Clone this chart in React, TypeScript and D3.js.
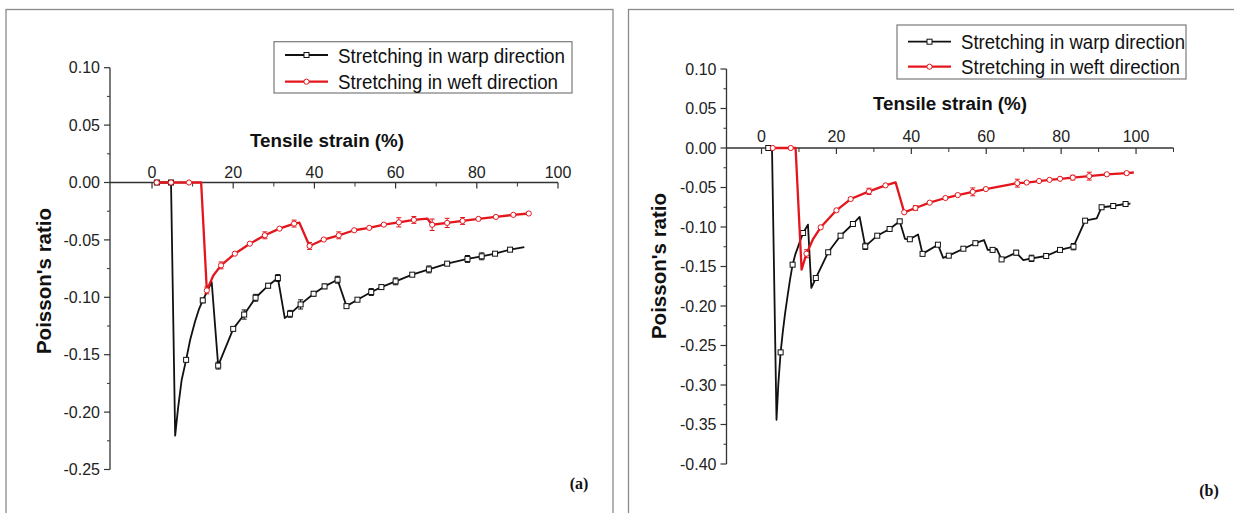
import React from "react";
import * as d3 from "d3";

// [strain %, poisson ratio, error half-length, marker shown (1) or plain vertex (0)]
type Pt = [number, number, number, number];

const warpA: Pt[] = [
  [1.2, 0, 0, 1], [4.68, 0, 0, 1], [5.7, -0.2205, 0, 0], [6.4, -0.197, 0, 0],
  [7.3, -0.172, 0, 0], [8.4, -0.1545, 0, 1], [9.4, -0.137, 0, 0],
  [10.6, -0.121, 0, 0], [11.6, -0.11, 0, 0], [12.5, -0.1027, 0.002, 1],
  [14.7, -0.0867, 0, 0], [16.3, -0.1595, 0.003, 1], [20, -0.1275, 0, 1], [22.7, -0.115, 0.004, 1],
  [25.5, -0.1004, 0.003, 1], [28.6, -0.0899, 0.002, 1], [31, -0.0832, 0.003, 1], [32.7, -0.1181, 0, 0],
  [34, -0.1144, 0.003, 1], [36.6, -0.1062, 0.004, 1], [39.8, -0.0969, 0.002, 1], [42.5, -0.0905, 0.002, 1],
  [45.7, -0.0847, 0.003, 1], [47.9, -0.1077, 0, 1], [50.6, -0.1021, 0, 1], [54, -0.0954, 0.003, 1],
  [56.5, -0.0911, 0.002, 1], [60, -0.0861, 0.003, 1], [64.1, -0.0803, 0, 1], [68.2, -0.0757, 0.003, 1],
  [72.7, -0.0707, 0, 1], [77.7, -0.0666, 0.003, 1], [81.2, -0.0643, 0.003, 1], [84.5, -0.062, 0, 1],
  [88.2, -0.0585, 0, 1], [91.7, -0.0562, 0, 0],
];

const weftA: Pt[] = [
  [1.16, 0, 0, 1], [4.68, 0, 0, 1], [9.1, 0, 0, 1], [12.1, 0, 0, 0],
  [13.5, -0.094, 0.003, 1], [15.1, -0.081, 0, 0], [17, -0.0722, 0.003, 1], [20.4, -0.062, 0, 1], [24.1, -0.0533, 0, 1],
  [27.8, -0.046, 0.003, 1], [31.4, -0.0402, 0, 1], [35, -0.0358, 0.003, 1], [36.3, -0.035, 0, 0],
  [38.8, -0.0553, 0.003, 1], [42.3, -0.0497, 0, 1], [46, -0.046, 0.003, 1], [49.8, -0.0416, 0, 1],
  [53.5, -0.0395, 0, 1], [57.1, -0.0367, 0, 1], [60.8, -0.0347, 0.004, 1], [64.5, -0.0326, 0.003, 1],
  [67.8, -0.0314, 0, 0], [69, -0.0368, 0.005, 1], [72.7, -0.0352, 0.004, 1], [76.5, -0.0335, 0.003, 1],
  [80.4, -0.0317, 0, 1], [84.7, -0.03, 0, 1], [89, -0.0282, 0, 1], [92.8, -0.027, 0, 1],
];

const warpB: Pt[] = [
  [1.8, 0, 0, 1], [2.8, 0, 0, 0], [4.0, -0.344, 0, 0], [4.5, -0.298, 0, 0], [5.1, -0.2587, 0, 1],
  [5.7, -0.232, 0, 0], [6.3, -0.209, 0, 0], [7.0, -0.186, 0, 0], [7.6, -0.167, 0, 0], [8.3, -0.1477, 0, 1],
  [9.0, -0.135, 0, 0], [9.8, -0.1245, 0, 0], [10.5, -0.115, 0, 0], [11.1, -0.1076, 0, 1],
  [12.4, -0.097, 0, 0], [13.3, -0.177, 0, 0], [14.5, -0.1646, 0, 1], [17.8, -0.132, 0, 1],
  [21.1, -0.111, 0, 1], [24.4, -0.0962, 0, 1], [26.2, -0.0873, 0, 0], [27.7, -0.1245, 0.004, 1],
  [30.9, -0.111, 0, 1], [34.2, -0.1025, 0, 1], [36.9, -0.0928, 0, 1], [38.3, -0.115, 0, 0],
  [39.6, -0.1155, 0, 1], [41.8, -0.1095, 0, 0], [43.0, -0.134, 0, 1], [47.1, -0.1224, 0, 1],
  [48.5, -0.139, 0, 0], [50, -0.1363, 0, 1], [53.9, -0.1275, 0, 1], [57.1, -0.1205, 0, 1],
  [59.4, -0.1165, 0, 0], [60.4, -0.129, 0, 0], [61.7, -0.129, 0, 1], [62.8, -0.1278, 0, 0],
  [64.1, -0.141, 0, 1], [68, -0.1325, 0.003, 1], [69.9, -0.1418, 0, 0], [72.1, -0.1397, 0.004, 1],
  [76, -0.1367, 0.003, 1], [79.7, -0.129, 0, 1], [83.3, -0.1249, 0.004, 1], [86.4, -0.092, 0, 1],
  [89.5, -0.089, 0, 0], [90.8, -0.075, 0, 1], [93.9, -0.0734, 0, 1], [97.2, -0.0709, 0.003, 1],
  [98.5, -0.0705, 0, 0],
];

const weftB: Pt[] = [
  [3.0, 0, 0, 1], [7.8, 0, 0, 1], [9.1, 0, 0, 0], [10.7, -0.154, 0, 0],
  [12, -0.1338, 0.005, 1], [13.8, -0.115, 0, 0], [15.8, -0.1004, 0, 1], [20, -0.0789, 0, 1], [23.8, -0.0646, 0, 1],
  [28.7, -0.0549, 0.004, 1], [33.1, -0.0473, 0, 1], [35.8, -0.0435, 0, 0], [38.1, -0.0814, 0, 1],
  [41.1, -0.076, 0.003, 1], [44.9, -0.0692, 0, 1], [49.1, -0.0633, 0, 1], [52.4, -0.0596, 0, 1],
  [56.4, -0.0555, 0.005, 1], [59.9, -0.052, 0, 1], [68.3, -0.0445, 0.005, 1], [70.8, -0.0437, 0, 1],
  [74.1, -0.0418, 0, 1], [76.9, -0.0403, 0, 1], [79.7, -0.039, 0, 1], [83.1, -0.0375, 0.003, 1],
  [87.5, -0.0356, 0.005, 1], [92.2, -0.0333, 0, 1], [97.5, -0.0318, 0.002, 1], [99.4, -0.031, 0, 0],
];

const seriesNames = ["Stretching in warp direction", "Stretching in weft direction"];
const seriesColors = ["#111111", "#e3161d"];
const xTicks = [0, 20, 40, 60, 80, 100];
const xMinorA = [10, 30, 50, 70, 90];
const xMinorB = [10, 30, 50, 70, 90, 110];
const yTicksA = [0.1, 0.05, 0, -0.05, -0.1, -0.15, -0.2, -0.25];
const yTicksB = [0.1, 0.05, 0, -0.05, -0.1, -0.15, -0.2, -0.25, -0.3, -0.35, -0.4];
const xTitle = "Tensile strain (%)";
const yTitle = "Poisson's ratio";
const panelTags = ["(a)", "(b)"];

const fmt = (v: number) => d3.format(".2f")(v).replace("\u2212", "-");
const sans = "'Liberation Sans', Arial, sans-serif";

const panels = [
  {
    series: [warpA, weftA],
    xDom: [-10.35, 100], xRange: [110, 558],
    yDom: [-0.25, 0.1], yRange: [469.5, 67.7],
    yTicks: yTicksA, xMinor: xMinorA,
    frame: { x: 6, y: 9.5, w: 607, h: 530 },
    legend: { x: 274, y: 41.7, w: 298, h: 51.3, rows: [13.3, 40], tw: [227, 220] },
    xt: { x: 327, y: 147 }, yt: { x: 44, y: 281 }, tag: { x: 579, y: 489 },
    xLabY: 178,
  },
  {
    series: [warpB, weftB],
    xDom: [-9.35, 110], xRange: [726.5, 1173.5],
    yDom: [-0.4, 0.1], yRange: [464, 69],
    yTicks: yTicksB, xMinor: xMinorB,
    frame: { x: 628.5, y: 9.5, w: 640, h: 530 },
    legend: { x: 897, y: 25, w: 289, h: 54, rows: [16.7, 41.7], tw: [224, 219] },
    xt: { x: 950, y: 110 }, yt: { x: 659, y: 266 }, tag: { x: 1209, y: 496 },
    xLabY: 142,
  },
];

function Marker({ kind, x, y, color }: { kind: number; x: number; y: number; color: string }) {
  if (kind === 0)
    return <rect x={x - 2.5} y={y - 2.5} width={5} height={5} fill="#fff" stroke={color} strokeWidth={1} />;
  return <circle cx={x} cy={y} r={2.6} fill="#fff" stroke={color} strokeWidth={1} />;
}

function Panel({ p, idx }: { p: (typeof panels)[number]; idx: number }) {
  const x = d3.scaleLinear().domain(p.xDom).range(p.xRange);
  const y = d3.scaleLinear().domain(p.yDom).range(p.yRange);
  const y0 = y(0);
  const ax = p.xRange[0];
  const yMinor = d3.pairs(p.yTicks).map(([a, b]) => (a + b) / 2);
  const line = d3.line<Pt>().x((d) => x(d[0])).y((d) => y(d[1]));
  const L = p.legend;

  return (
    <g>
      <rect x={p.frame.x} y={p.frame.y} width={p.frame.w} height={p.frame.h} fill="none" stroke="#8a8a8a" strokeWidth={1.3} />

      {/* y axis */}
      <line x1={ax} x2={ax} y1={y(p.yDom[1])} y2={y(p.yDom[0])} stroke="#333" strokeWidth={1.3} />
      {p.yTicks.map((t) => (
        <g key={"y" + t}>
          <line x1={ax - 6} x2={ax} y1={y(t)} y2={y(t)} stroke="#333" strokeWidth={1.2} />
          <text x={ax - 10} y={y(t)} dy="0.36em" textAnchor="end" fontFamily={sans} fontSize={16} fill="#222">
            {fmt(t)}
          </text>
        </g>
      ))}
      {yMinor.map((t) => (
        <line key={"ym" + t} x1={ax - 3} x2={ax} y1={y(t)} y2={y(t)} stroke="#333" strokeWidth={1} />
      ))}

      {/* x axis along zero */}
      <line x1={ax} x2={p.xRange[1]} y1={y0} y2={y0} stroke="#333" strokeWidth={1.3} />
      {xTicks.map((t) => (
        <g key={"x" + t}>
          <line x1={x(t)} x2={x(t)} y1={y0} y2={y0 + 6} stroke="#333" strokeWidth={1.2} />
          <text x={x(t)} y={p.xLabY} textAnchor="middle" fontFamily={sans} fontSize={16} fill="#222">
            {t}
          </text>
        </g>
      ))}
      {p.xMinor.map((t) => (
        <line key={"xm" + t} x1={x(t)} x2={x(t)} y1={y0} y2={y0 + 4} stroke="#333" strokeWidth={1} />
      ))}

      <text x={p.xt.x} y={p.xt.y} textAnchor="middle" fontFamily={sans} fontWeight="bold" fontSize={18.8} fill="#111">
        {xTitle}
      </text>
      <text
        transform={`translate(${p.yt.x},${p.yt.y}) rotate(-90)`}
        dy="0.36em"
        textAnchor="middle"
        fontFamily={sans}
        fontWeight="bold"
        fontSize={20.5}
        fill="#111"
      >
        {yTitle}
      </text>

      {/* series */}
      {p.series.map((s, si) => (
        <g key={"s" + si}>
          <path d={line(s) ?? ""} fill="none" stroke={seriesColors[si]} strokeWidth={si === 0 ? 1.8 : 2.3} strokeLinejoin="round" />
          {s.filter((d) => d[2] > 0).map((d, i) => (
            <g key={"e" + i} stroke={seriesColors[si]} strokeWidth={1}>
              <line x1={x(d[0])} x2={x(d[0])} y1={y(d[1] - d[2])} y2={y(d[1] + d[2])} />
              <line x1={x(d[0]) - 2.5} x2={x(d[0]) + 2.5} y1={y(d[1] - d[2])} y2={y(d[1] - d[2])} />
              <line x1={x(d[0]) - 2.5} x2={x(d[0]) + 2.5} y1={y(d[1] + d[2])} y2={y(d[1] + d[2])} />
            </g>
          ))}
          {s.filter((d) => d[3] === 1).map((d, i) => (
            <Marker key={"m" + i} kind={si} x={x(d[0])} y={y(d[1])} color={seriesColors[si]} />
          ))}
        </g>
      ))}

      {/* legend */}
      <rect x={L.x} y={L.y} width={L.w} height={L.h} fill="#fff" stroke="#7a7a7a" strokeWidth={1.2} />
      {seriesNames.map((name, i) => (
        <g key={name}>
          <line x1={L.x + 11} x2={L.x + 54} y1={L.y + L.rows[i]} y2={L.y + L.rows[i]} stroke={seriesColors[i]} strokeWidth={i === 0 ? 1.8 : 2.3} />
          <Marker kind={i} x={L.x + 32.5} y={L.y + L.rows[i]} color={seriesColors[i]} />
          <text
            x={L.x + 64}
            y={L.y + L.rows[i]}
            dy="0.36em"
            fontFamily={sans}
            fontSize={21}
            textLength={L.tw[i]}
            lengthAdjust="spacingAndGlyphs"
            fill="#111"
          >
            {name}
          </text>
        </g>
      ))}

      <text x={p.tag.x} y={p.tag.y} textAnchor="middle" fontFamily="'Liberation Serif', 'Times New Roman', serif" fontWeight="bold" fontSize={16} fill="#111">
        {panelTags[idx]}
      </text>
    </g>
  );
}

export default function App() {
  return (
    <svg width={1234} height={513} style={{ position: "absolute", left: 0, top: 0, background: "#fff" }}>
      <rect width={1234} height={513} fill="#fff" />
      {panels.map((p, i) => (
        <Panel key={i} p={p} idx={i} />
      ))}
    </svg>
  );
}
